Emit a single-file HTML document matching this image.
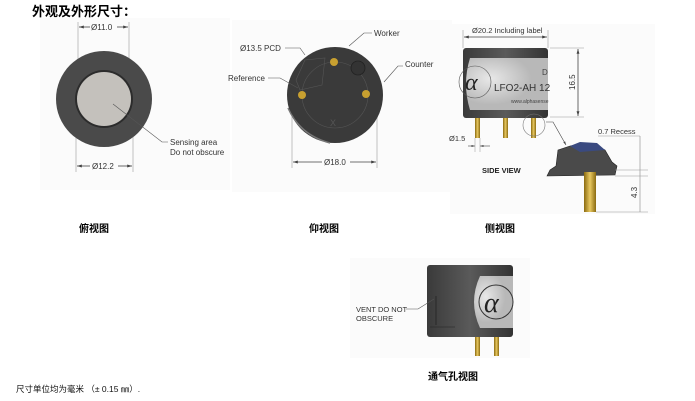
<!DOCTYPE html>
<html><head><meta charset="utf-8"><style>
body{margin:0;background:#fff;width:695px;height:401px;overflow:hidden}
svg{display:block}
text{font-family:"Liberation Sans",sans-serif;fill:#333}
.cj{font-family:"Liberation Sans","Noto Sans CJK SC",sans-serif;font-weight:bold;fill:#000}
</style></head><body>
<svg width="695" height="401" viewBox="0 0 695 401" xmlns="http://www.w3.org/2000/svg">
<defs>
<marker id="a" viewBox="0 0 10 10" refX="10" refY="5" markerWidth="6" markerHeight="6" orient="auto-start-reverse"><path d="M0,2 L10,5 L0,8z" fill="#444"/></marker>
<linearGradient id="body" x1="0" x2="1"><stop offset="0" stop-color="#3a3a3a"/><stop offset=".5" stop-color="#5a5a5a"/><stop offset="1" stop-color="#333"/></linearGradient>
<linearGradient id="pin" x1="0" x2="1"><stop offset="0" stop-color="#8a6a10"/><stop offset=".5" stop-color="#e8c860"/><stop offset="1" stop-color="#8a6a10"/></linearGradient>
<radialGradient id="lab" cx=".3" cy=".4"><stop offset="0" stop-color="#e8e8e8"/><stop offset="1" stop-color="#b8b8b8"/></radialGradient>
</defs>
<rect x="40" y="18" width="190" height="172" fill="#fbfbfb"/>
<rect x="232" y="20" width="220" height="172" fill="#fbfbfb"/>
<rect x="450" y="24" width="205" height="190" fill="#fbfbfb"/>
<rect x="350" y="258" width="180" height="100" fill="#fbfbfb"/>
<text x="32" y="16" class="cj" font-size="13">外观及外形尺寸：</text>

<!-- top view -->
<line x1="78" y1="22" x2="78" y2="90" stroke="#999" stroke-width=".6"/>
<line x1="129" y1="22" x2="129" y2="90" stroke="#999" stroke-width=".6"/>
<line x1="76" y1="110" x2="76" y2="172" stroke="#999" stroke-width=".6"/>
<line x1="133" y1="110" x2="133" y2="172" stroke="#999" stroke-width=".6"/>
<circle cx="104" cy="99" r="48" fill="#4a4a4a"/>
<circle cx="104" cy="99" r="29" fill="#2c2c2c"/>
<circle cx="104" cy="99" r="27" fill="#c4c1bc"/>
<line x1="79" y1="27" x2="90" y2="27" stroke="#444" stroke-width=".8" marker-start="url(#a)"/>
<line x1="117" y1="27" x2="128" y2="27" stroke="#444" stroke-width=".8" marker-end="url(#a)"/>
<text x="91" y="30" font-size="8">Ø11.0</text>
<line x1="77" y1="166" x2="90" y2="166" stroke="#444" stroke-width=".8" marker-start="url(#a)"/>
<line x1="118" y1="166" x2="132" y2="166" stroke="#444" stroke-width=".8" marker-end="url(#a)"/>
<text x="92" y="169" font-size="8">Ø12.2</text>
<polyline points="113,104 162,142 168,142" fill="none" stroke="#555" stroke-width=".6"/>
<text x="170" y="145" font-size="8">Sensing area</text>
<text x="170" y="155" font-size="8">Do not obscure</text>
<text x="79" y="232" class="cj" font-size="10">俯视图</text>

<!-- bottom view -->
<line x1="292" y1="100" x2="292" y2="168" stroke="#999" stroke-width=".6"/>
<line x1="377" y1="100" x2="377" y2="168" stroke="#999" stroke-width=".6"/>
<circle cx="335" cy="95" r="48" fill="#3a3a3a"/>
<path d="M288,108 Q300,135 330,143" fill="none" stroke="#777" stroke-width="1.5"/>
<circle cx="335" cy="95" r="33" fill="none" stroke="#555" stroke-width=".6"/>
<path d="M296,80 L305,60 L325,58 L322,85 L300,90z" fill="none" stroke="#555" stroke-width=".6"/>
<circle cx="358" cy="68" r="7" fill="#333" stroke="#222" stroke-width=".8"/>
<circle cx="334" cy="62" r="4" fill="#c8a030"/>
<circle cx="302" cy="95" r="4" fill="#c8a030"/>
<circle cx="366" cy="94" r="4" fill="#c8a030"/>
<text x="330" y="126" font-size="9" fill="#555" style="fill:#555">X</text>
<polyline points="349,46 364,33 372,33" fill="none" stroke="#555" stroke-width=".6"/>
<text x="374" y="36" font-size="8">Worker</text>
<polyline points="384,82 398,66 403,66" fill="none" stroke="#555" stroke-width=".6"/>
<text x="405" y="67" font-size="8">Counter</text>
<polyline points="285,48 300,48 305,55" fill="none" stroke="#555" stroke-width=".6"/>
<text x="240" y="51" font-size="8">Ø13.5 PCD</text>
<polyline points="268,78 280,78 298,88" fill="none" stroke="#555" stroke-width=".6"/>
<text x="228" y="81" font-size="8">Reference</text>
<line x1="293" y1="162" x2="322" y2="162" stroke="#444" stroke-width=".8" marker-start="url(#a)"/>
<line x1="350" y1="162" x2="376" y2="162" stroke="#444" stroke-width=".8" marker-end="url(#a)"/>
<text x="324" y="165" font-size="8">Ø18.0</text>
<text x="309" y="232" class="cj" font-size="10">仰视图</text>

<!-- side view -->
<line x1="463" y1="30" x2="463" y2="48" stroke="#999" stroke-width=".6"/>
<line x1="548" y1="30" x2="548" y2="48" stroke="#999" stroke-width=".6"/>
<text x="472" y="33" font-size="7.5">Ø20.2 Including label</text>
<line x1="464" y1="37" x2="547" y2="37" stroke="#444" stroke-width=".8" marker-start="url(#a)" marker-end="url(#a)"/>
<rect x="463" y="48" width="85" height="70" rx="3" fill="url(#body)"/>
<path d="M470,58 L548,58 L548,110 L470,110 Q462,84 470,58z" fill="url(#lab)"/>
<circle cx="475" cy="82" r="16" fill="none" stroke="#555" stroke-width=".6"/>
<text x="465" y="90" font-size="24" font-style="italic" style="font-family:'Liberation Serif',serif;fill:#222">α</text>
<text x="494" y="91" font-size="10" style="fill:#333">LFO2-AH 12</text>
<text x="511" y="103" font-size="5" style="fill:#444">www.alphasense</text>
<text x="542" y="75" font-size="8" style="fill:#444">D</text>
<rect x="475" y="118" width="5" height="20" fill="url(#pin)"/>
<rect x="503" y="118" width="5" height="20" fill="url(#pin)"/>
<rect x="531" y="118" width="5" height="20" fill="url(#pin)"/>
<circle cx="534" cy="125" r="11" fill="none" stroke="#777" stroke-width=".6"/>
<polyline points="546,122 553,122 566,145" fill="none" stroke="#444" stroke-width=".6" marker-end="url(#a)"/>
<line x1="550" y1="48" x2="584" y2="48" stroke="#999" stroke-width=".6"/>
<line x1="550" y1="117" x2="584" y2="117" stroke="#999" stroke-width=".6"/>
<line x1="578" y1="49" x2="578" y2="116" stroke="#444" stroke-width=".8" marker-start="url(#a)" marker-end="url(#a)"/>
<text transform="translate(575,90) rotate(-90)" font-size="8">16.5</text>
<text x="449" y="141" font-size="7.5">Ø1.5</text>
<line x1="468" y1="146" x2="475" y2="146" stroke="#444" stroke-width=".6" marker-end="url(#a)"/>
<line x1="480" y1="146" x2="490" y2="146" stroke="#444" stroke-width=".6" marker-start="url(#a)"/>
<line x1="475" y1="138" x2="475" y2="152" stroke="#999" stroke-width=".5"/>
<line x1="480" y1="138" x2="480" y2="152" stroke="#999" stroke-width=".5"/>
<text x="482" y="173" font-size="7.5" font-weight="bold" style="fill:#222">SIDE VIEW</text>
<path d="M558,150 L570,146 L580,144 L597,146 L605,150 L612,162 L617,166 L615,175 L547,176 L550,170 L556,166z" fill="#4a4a4a" stroke="#222" stroke-width=".6"/>
<path d="M570,146 L580,142 L597,143 L605,150 L580,152z" fill="#3a4a80"/>
<rect x="584" y="172" width="12" height="40" fill="url(#pin)"/>
<text x="598" y="134" font-size="7.5">0.7 Recess</text>
<line x1="598" y1="136" x2="640" y2="136" stroke="#999" stroke-width=".5"/>
<line x1="640" y1="136" x2="640" y2="212" stroke="#888" stroke-width=".6"/>
<line x1="615" y1="170" x2="648" y2="170" stroke="#999" stroke-width=".5"/>
<line x1="615" y1="176" x2="648" y2="176" stroke="#999" stroke-width=".5"/>
<line x1="596" y1="212" x2="648" y2="212" stroke="#999" stroke-width=".5"/>
<text transform="translate(637,198) rotate(-90)" font-size="8">4.3</text>
<text x="485" y="232" class="cj" font-size="10">侧视图</text>

<!-- vent view -->
<rect x="427" y="265" width="86" height="72" rx="3" fill="url(#body)"/>
<path d="M513,276 L480,276 Q468,302 480,328 L513,328z" fill="url(#lab)"/>
<circle cx="496" cy="302" r="17" fill="none" stroke="#333" stroke-width="1"/>
<text x="484" y="312" font-size="28" font-style="italic" style="font-family:'Liberation Serif',serif;fill:#222">α</text>
<line x1="436" y1="296" x2="436" y2="325" stroke="#222" stroke-width=".8"/>
<line x1="430" y1="327" x2="455" y2="327" stroke="#222" stroke-width=".6"/>
<rect x="475" y="337" width="5" height="19" fill="url(#pin)"/>
<rect x="494" y="337" width="5" height="19" fill="url(#pin)"/>
<polyline points="406,309 418,309 434,299" fill="none" stroke="#555" stroke-width=".6"/>
<text x="356" y="312" font-size="7.5">VENT DO NOT</text>
<text x="356" y="321" font-size="7.5">OBSCURE</text>
<text x="428" y="380" class="cj" font-size="10">通气孔视图</text>

<text x="16" y="392" font-size="8.5" style="font-family:'Liberation Sans','Noto Sans CJK SC',sans-serif;fill:#111">尺寸单位均为毫米 （± 0.15 ㎜）.</text>
</svg>
</body></html>
